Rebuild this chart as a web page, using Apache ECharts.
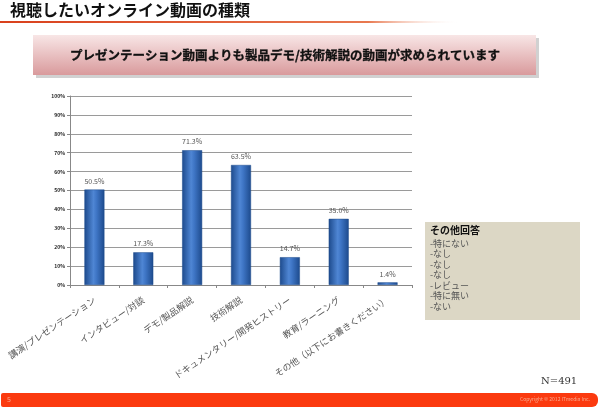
<!DOCTYPE html>
<html><head><meta charset="utf-8">
<script src="https://cdn.jsdelivr.net/npm/echarts@6/dist/echarts.min.js"></script>
<style>html,body{margin:0;padding:0;background:#fff}#c{width:600px;height:413px}</style>
</head><body><div id="c"></div>
<script>
const categories = ['講演/プレゼンテーション','インタビュー/対談','デモ/製品解説','技術解説','ドキュメンタリー/開発ヒストリー','教育/ラーニング','その他（以下にお書きください）'];
const values = [50.5, 17.3, 71.3, 63.5, 14.7, 35.0, 1.4];
const otherAnswers = ['-特にない','-なし','-なし','-なし','-レビュー','-特に無い','-ない'];
const titleText = '視聴したいオンライン動画の種類';
const bannerText = 'プレゼンテーション動画よりも製品デモ/技術解説の動画が求められています';
const FONT = '"Noto Sans CJK JP", "Noto Sans", sans-serif';

const chart = echarts.init(document.getElementById('c'), null, {renderer:'canvas'});
const barGrad = new echarts.graphic.LinearGradient(0,0,1,0,[
  {offset:0,color:'#1d4a8c'},{offset:0.45,color:'#4f86d4'},{offset:0.6,color:'#3f76c6'},{offset:1,color:'#1d4a8c'}]);
chart.setOption({
  animation:false,
  textStyle:{fontFamily:FONT},
  grid:{left:70,right:188,top:96,bottom:128},
  xAxis:{type:'category',data:categories,
    axisLine:{lineStyle:{color:'#888'}},
    axisTick:{show:true,alignWithLabel:false,length:3,lineStyle:{color:'#888'}},
    axisLabel:{rotate:34,fontSize:9,color:'#555',margin:14,fontFamily:FONT,interval:0}},
  yAxis:{type:'value',min:0,max:100,interval:10,
    axisLine:{show:true,lineStyle:{color:'#888'}},
    axisTick:{show:true,length:3,lineStyle:{color:'#888'}},
    splitLine:{lineStyle:{color:'#9a9a9a'}},
    axisLabel:{formatter:'{value}%',fontSize:5,fontWeight:'bold',color:'#222',margin:5}},
  series:[{type:'bar',data:values,barWidth:20,
    itemStyle:{color:barGrad,borderColor:'#1d4a8c',borderWidth:0.5},
    label:{show:true,position:'top',fontSize:7,color:'#555',formatter:p=>p.value.toFixed(1)+'%'}}],
  graphic:[
    {type:'text',left:10,top:2,style:{text:titleText,font:'bold 16px '+FONT,fill:'#111'}},
    {type:'rect',shape:{x:0,y:21,width:460,height:2},style:{fill:new echarts.graphic.LinearGradient(0,0,1,0,[
      {offset:0,color:'#d9401c'},{offset:0.8,color:'#e8784f'},{offset:1,color:'rgba(255,255,255,0)'}])}},
    {type:'rect',shape:{x:36,y:38,width:503,height:40},style:{fill:'rgba(0,0,0,0.18)'}},
    {type:'rect',shape:{x:33,y:35,width:503,height:40},style:{fill:new echarts.graphic.LinearGradient(0,0,0,1,[
      {offset:0,color:'#f8e6e6'},{offset:1,color:'#d99a9c'}])}},
    {type:'text',x:285,y:55,style:{text:bannerText,font:'bold 12.5px '+FONT,fill:'#111',align:'center',verticalAlign:'middle',stroke:'#111',lineWidth:0.3}},
    {type:'rect',shape:{x:425,y:222,width:155,height:98},style:{fill:'#dcd7c5'}},
    {type:'text',x:430,y:225,style:{text:'その他回答',font:'bold 10px '+FONT,fill:'#111'}},
    {type:'text',x:430,y:238,style:{text:otherAnswers.join('\n'),font:'9px '+FONT,fill:'#555',lineHeight:10.5}},
    {type:'text',x:541,y:376,style:{text:'N=491',font:'10px "DejaVu Serif", serif',fill:'#333'}},
    {type:'rect',shape:{x:1,y:393,width:597,height:14,r:[2,6,6,2]},style:{fill:'#fb3a0f'}},
    {type:'text',x:7,y:396,style:{text:'5',font:'7px '+FONT,fill:'#f9a98f'}},
    {type:'text',x:590,y:397,style:{text:'Copyright © 2012 ITmedia Inc.',font:'5px '+FONT,fill:'#f9a98f',align:'right'}}
  ]
});
</script></body></html>
